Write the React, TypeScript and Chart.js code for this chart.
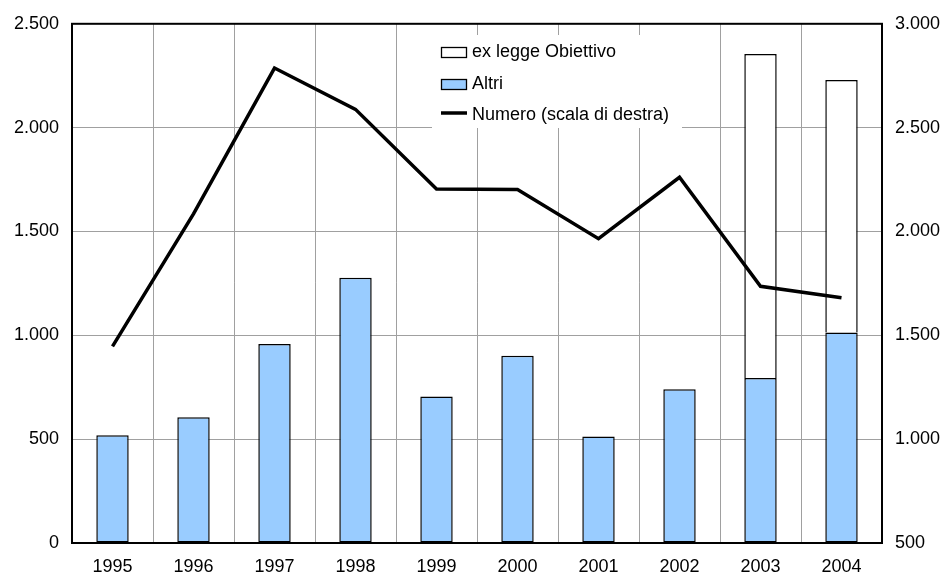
import React, { useEffect, useRef } from "react";
import { Chart, registerables } from "chart.js";

Chart.register(...registerables);

const years = ["1995", "1996", "1997", "1998", "1999", "2000", "2001", "2002", "2003", "2004"];
const altri = [519, 606, 958, 1277, 705, 902, 513, 740, 795, 1014];
const exLegge = [null, null, null, null, null, null, null, null, 1560, 1215];
const numero = [1447, 2085, 2787, 2588, 2205, 2202, 1965, 2261, 1736, 1681];

const leftTicks = [0, 500, 1000, 1500, 2000, 2500];
const rightTicks = [500, 1000, 1500, 2000, 2500, 3000];

const FONT = "'Liberation Sans', Arial, sans-serif";
const FONT_SIZE = 18;
const BLUE = "#99CCFF";
const GRID = "#a0a0a0";

const fmt = (v: number) => {
  const s = Math.round(v).toString();
  return s.replace(/\B(?=(\d{3})+(?!\d))/g, ".");
};

const legendItems = [
  { label: "ex legge Obiettivo", type: "box", fill: "#ffffff" },
  { label: "Altri", type: "box", fill: BLUE },
  { label: "Numero (scala di destra)", type: "line", fill: "#000000" },
];

const frameAndLegend = {
  id: "frameAndLegend",
  beforeDatasetsDraw(chart: any) {
    const { ctx, chartArea } = chart;
    ctx.save();
    ctx.strokeStyle = "#000";
    ctx.lineWidth = 2;
    ctx.strokeRect(chartArea.left, chartArea.top, chartArea.right - chartArea.left, chartArea.bottom - chartArea.top);
    ctx.restore();
  },
  afterDatasetsDraw(chart: any) {
    const { ctx } = chart;
    ctx.save();
    ctx.fillStyle = "#ffffff";
    ctx.fillRect(432, 35, 250, 93);
    ctx.font = `${FONT_SIZE}px ${FONT}`;
    ctx.textBaseline = "middle";
    ctx.textAlign = "left";
    const rows = [52, 84, 115];
    legendItems.forEach((it, i) => {
      const cy = rows[i];
      if (it.type === "box") {
        ctx.fillStyle = it.fill;
        ctx.fillRect(441, cy - 5, 25, 10);
        ctx.strokeStyle = "#000";
        ctx.lineWidth = 1.3;
        ctx.strokeRect(441.5, cy - 4.5, 25, 10);
      } else {
        ctx.strokeStyle = "#000";
        ctx.lineWidth = 3.5;
        ctx.beginPath();
        ctx.moveTo(441, cy - 2);
        ctx.lineTo(467, cy - 2);
        ctx.stroke();
      }
      ctx.fillStyle = "#000";
      ctx.fillText(it.label, 472, cy);
    });
    ctx.restore();
  },
};

export default function App() {
  const ref = useRef<HTMLCanvasElement | null>(null);
  useEffect(() => {
    document.body.style.margin = "0";
    const canvas = ref.current!;
    const chart = new Chart(canvas, {
      type: "bar",
      data: {
        labels: years,
        datasets: [
          {
            type: "line",
            label: "Numero (scala di destra)",
            data: numero,
            yAxisID: "y1",
            borderColor: "#000",
            borderWidth: 3.5,
            pointRadius: 0,
            tension: 0,
            order: 0,
            fill: false,
          } as any,
          {
            type: "bar",
            label: "Altri",
            data: altri,
            yAxisID: "y",
            backgroundColor: BLUE,
            borderColor: "#000",
            borderWidth: 1.5,
            borderSkipped: false,
            barPercentage: 0.4,
            categoryPercentage: 1,
            stack: "s",
            order: 1,
          },
          {
            type: "bar",
            label: "ex legge Obiettivo",
            data: exLegge as any,
            yAxisID: "y",
            backgroundColor: "#ffffff",
            borderColor: "#000",
            borderWidth: 1.5,
            borderSkipped: "start",
            barPercentage: 0.4,
            categoryPercentage: 1,
            stack: "s",
            order: 1,
          },
        ],
      },
      options: {
        responsive: false,
        animation: false,
        layout: { padding: { top: 23, left: 0, right: 0, bottom: 0 } },
        plugins: { legend: { display: false }, tooltip: { enabled: false } },
        scales: {
          x: {
            stacked: true,
            grid: { color: GRID, lineWidth: 1, drawTicks: false, offset: true },
            border: { color: "#000", width: 2 },
            ticks: { color: "#000", font: { family: FONT, size: FONT_SIZE }, padding: 13, maxRotation: 0 },
            afterFit: (s: any) => { s.height = 34; },
          },
          y: {
            stacked: true,
            position: "left",
            min: 0,
            max: 2500,
            afterBuildTicks: (s: any) => { s.ticks = leftTicks.map((v) => ({ value: v })); },
            grid: { color: GRID, lineWidth: 1, drawTicks: false },
            border: { color: "#000", width: 2 },
            ticks: { color: "#000", font: { family: FONT, size: FONT_SIZE }, padding: 13, callback: (v: any) => fmt(v) },
            afterFit: (s: any) => { s.width = 72; },
          },
          y1: {
            position: "right",
            min: 500,
            max: 3000,
            afterBuildTicks: (s: any) => { s.ticks = rightTicks.map((v) => ({ value: v })); },
            grid: { drawOnChartArea: false, drawTicks: false },
            border: { color: "#000", width: 2 },
            ticks: { color: "#000", font: { family: FONT, size: FONT_SIZE }, padding: 13, callback: (v: any) => fmt(v) },
            afterFit: (s: any) => { s.width = 61; },
          },
        },
      },
      plugins: [frameAndLegend],
    });
    return () => chart.destroy();
  }, []);
  return (
    <div style={{ position: "fixed", left: 0, top: 0, width: 943, height: 577, background: "#fff" }}>
      <canvas ref={ref} width={943} height={577} style={{ width: 943, height: 577 }} />
    </div>
  );
}
